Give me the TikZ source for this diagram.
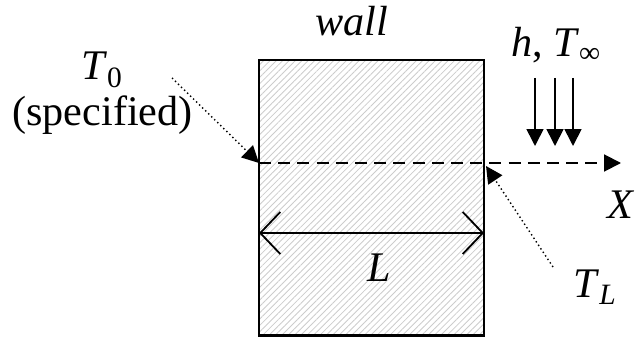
\documentclass[tikz,border=0pt]{standalone}
\usepackage{fontspec}
\setmainfont{Liberation Serif}
\usetikzlibrary{positioning, arrows.meta, patterns.meta}

\begin{document}
\begin{tikzpicture}[>=Stealth, scale=1.0, font=\fontsize{30}{36}\selectfont,
    lbl/.style={inner sep=0pt, anchor=base},
    filltip/.style={-{Triangle[length=0.42cm, width=0.42cm]}},
    dotline/.style={line width=1pt, dotted},
]
    \useasboundingbox (0,0) rectangle (15.975,8.425);
    % the wall
    \draw[line width=1.6pt, pattern={Lines[angle=45, distance=3.2pt, line width=0.6pt]}, pattern color=gray!40]
        (6.475,0.04) rectangle (12.1,6.925);
    \coordinate (x0) at (6.475,4.35);
    \coordinate (xL) at (12.1,4.35);
    \coordinate (xend) at (15.525,4.35);
    \node[lbl] (wall) at (8.8,7.525) {\textit{wall}};
    % x axis
    \draw[filltip, line width=1.4pt, dash pattern=on 0.3cm off 0.18cm] (x0) -- (xend);
    \node[lbl] (xlab) at (15.525,2.975) {\textit{X}};
    % left face
    \node[lbl] (t0) at (2.55,6.425) {\textit{T}\textsubscript{0}};
    \node[lbl] (spec) at (2.5625,5.3) {(specified)};
    \coordinate (t0tail) at (4.3,6.475);
    \draw[dotline, filltip] (t0tail) -- (x0);
    % right face
    \node[lbl] (tL) at (14.875,1.0) {\textit{T}\textsubscript{\textit{L}}};
    \coordinate (tLtail) at (13.825,1.75);
    \coordinate (tLtip) at (12.15,4.275);
    \draw[dotline, filltip] (tLtail) -- (tLtip);
    % convection
    \node[lbl] (conv) at (13.9,7.0) {\textit{h}, \textit{T}\textsubscript{∞}};
    \foreach \x [count=\i] in {13.375, 13.875, 14.325} {
        \coordinate (c\i) at (\x,6.475);
        \coordinate (d\i) at (\x,4.775);
        \draw[filltip, line width=1.2pt] (c\i) -- (d\i);
    }
    % thickness
    \coordinate (la) at (6.475,2.6);
    \coordinate (lb) at (12.1,2.6);
    \draw[{Straight Barb[length=0.5cm, width=1.05cm]}-{Straight Barb[length=0.5cm, width=1.05cm]}, line width=1.3pt] (la) -- (lb);
    \node[lbl] (len) at (9.4875,1.4) {\textit{L}};
\end{tikzpicture}
\end{document}
